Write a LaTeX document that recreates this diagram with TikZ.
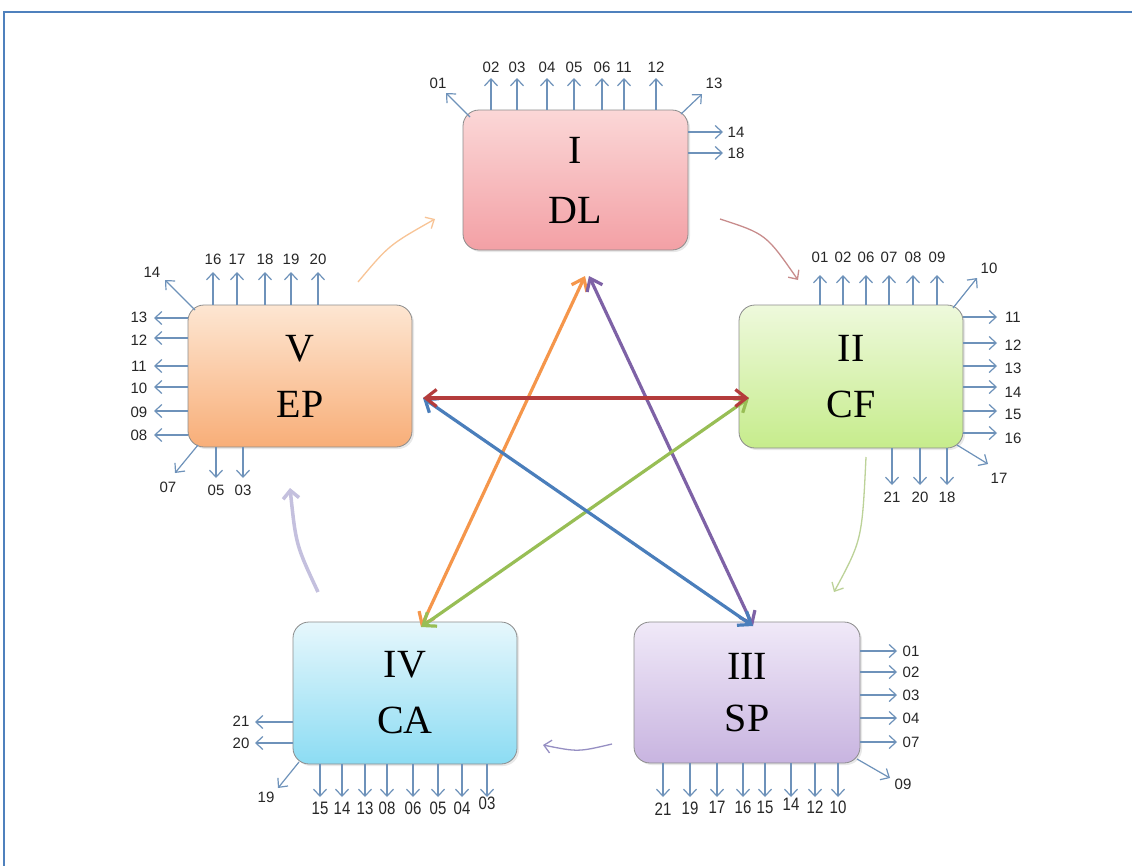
\documentclass[tikz,border=0pt]{standalone}
\usepackage{fontspec}
\setmainfont{Liberation Serif}
\newfontfamily\labfont{Liberation Sans}
\usetikzlibrary{arrows.meta,shadows}
\definecolor{framec}{RGB}{79,129,189}
\definecolor{boxgray}{RGB}{140,140,140}
\definecolor{sblue}{RGB}{110,146,186}
\definecolor{Itop}{RGB}{251,215,215}\definecolor{Ibot}{RGB}{243,160,165}
\definecolor{Vtop}{RGB}{253,230,210}\definecolor{Vbot}{RGB}{248,174,120}
\definecolor{IItop}{RGB}{238,249,220}\definecolor{IIbot}{RGB}{198,236,140}
\definecolor{IVtop}{RGB}{230,247,252}\definecolor{IVbot}{RGB}{140,220,243}
\definecolor{IIItop}{RGB}{240,233,248}\definecolor{IIIbot}{RGB}{200,180,224}
\definecolor{cred}{RGB}{180,60,60}
\definecolor{cblue}{RGB}{74,126,187}
\definecolor{corange}{RGB}{245,150,75}
\definecolor{cpurple}{RGB}{126,98,166}
\definecolor{cgreen}{RGB}{152,190,85}
\definecolor{cycO}{RGB}{248,196,150}
\definecolor{cycR}{RGB}{200,140,140}
\definecolor{cycG}{RGB}{188,210,152}
\definecolor{cycP}{RGB}{150,143,195}
\definecolor{cycL}{RGB}{196,192,222}
\begin{document}
\begin{tikzpicture}[x=1pt,y=-1pt,
  box/.style={draw=boxgray, line width=0.8pt, rounded corners=16pt, minimum width=224pt,
    minimum height=142pt, align=center, inner sep=0pt,
    font=\fontsize{40}{56}\selectfont,
    drop shadow={opacity=0.18, shadow xshift=2pt, shadow yshift=-2pt}},
  sa/.style={draw=sblue, line width=1.2pt, -{Straight Barb[length=7pt,width=13pt]}},
  lab/.style={font=\labfont\fontsize{15}{15}\selectfont, text=black!85, inner sep=0pt},
  blab/.style={font=\labfont\fontsize{15}{15}\selectfont, text=black!85, inner sep=0pt, yscale=1.2, transform shape},
  big/.style={line width=3.2pt, {Straight Barb[length=11pt,width=17pt]}-{Straight Barb[length=11pt,width=17pt]}},
  cyc/.style={line width=1.3pt, -{Straight Barb[length=7pt,width=13pt]}}
]
\useasboundingbox (0,0) rectangle (1132,865);
\fill[white] (0,0) rectangle (1132,865);
\draw[framec, line width=2.4pt] (4,866) -- (4,12) -- (1133,12);

% boxes
\node[box, top color=Itop, bottom color=Ibot, minimum width=225pt, minimum height=140pt,
  font=\fontsize{40}{60}\selectfont] (boxI) at (575.5,180) {I\\DL};
\node[box, top color=IItop, bottom color=IIbot, minimum height=143pt] (boxII) at (851,376.5) {II\\CF};
\node[box, top color=IIItop, bottom color=IIIbot, minimum width=226pt, minimum height=141pt,
  font=\fontsize{40}{52}\selectfont] (boxIII) at (747,692.5) {III\\SP};
\node[box, top color=IVtop, bottom color=IVbot] (boxIV) at (405,693) {IV\\CA};
\node[box, top color=Vtop, bottom color=Vbot] (boxV) at (300,376) {V\\EP};

% cycle arrows
\draw[cyc, cycO] (358,282) .. controls (389,245) .. (435,219);
\draw[cyc, cycR] (720,219) .. controls (766,234) .. (798,280);
\draw[cyc, cycG] (866,457) .. controls (862,540) .. (834,592);
\draw[cyc, cycP] (612,744) .. controls (578,752) .. (543,745);
\draw[cycL, line width=3.5pt, -{Straight Barb[length=8pt,width=16pt]}] (318,592) .. controls (296,545) .. (290,488);

% star arrows
\coordinate (tV) at (423,398);
\coordinate (tII) at (749,398);
\coordinate (tIa) at (585,276);
\coordinate (tIb) at (589,276);
\coordinate (tIII) at (753,626);
\coordinate (tIV) at (421,627);
\draw[big, corange] (tIa) -- (tIV);
\draw[big, cpurple] (tIb) -- (tIII);
\draw[big, cgreen] (tII) -- (tIV);
\draw[big, cblue] (tV) -- (tIII);
\draw[big, cred] (tV) -- (tII);

% ---- box I stubs
\foreach \x/\l in {491/02,517/03,547/04,574/05,602/06,624/11,656/12}{
  \draw[sa] (boxI.north -| \x,0) -- (\x,78);
  \node[lab] at (\x,67) {\l};}
\draw[sa] (470,117) -- (446,93); \node[lab] at (438,83) {01};
\draw[sa] (681,114) -- (702,94); \node[lab] at (714,83) {13};
\draw[sa] (boxI.east |- 0,132) -- (723,132); \node[lab] at (736,132) {14};
\draw[sa] (boxI.east |- 0,153) -- (723,153); \node[lab] at (736,153) {18};

% ---- box II stubs
\foreach \x/\l in {820/01,843/02,866/06,889/07,913/08,937/09}{
  \draw[sa] (boxII.north -| \x,0) -- (\x,275);
  \node[lab] at (\x,257) {\l};}
\draw[sa] (953,308) -- (977,278); \node[lab] at (989,268) {10};
\foreach \y/\ly/\l in {317/317/11,343/345/12,366/368/13,387/392/14,411/414/15,433/438/16}{
  \draw[sa] (boxII.east |- 0,\y) -- (997,\y);
  \node[lab] at (1013,\ly) {\l};}
\draw[sa] (957,445) -- (988,464); \node[lab] at (999,478) {17};
\foreach \x/\l in {892/21,920/20,947/18}{
  \draw[sa] (boxII.south -| \x,0) -- (\x,485);
  \node[lab] at (\x,497) {\l};}

% ---- box III stubs
\foreach \y/\l in {651/01,672/02,695/03,718/04,742/07}{
  \draw[sa] (boxIII.east |- 0,\y) -- (897,\y);
  \node[lab] at (911,\y) {\l};}
\draw[sa] (857,759) -- (890,778); \node[lab] at (903,784) {09};
\foreach \x/\ly/\l in {663/809/21,690/808/19,717/807/17,743/807/16,765/807/15,791/804/14,815/807/12,838/807/10}{
  \draw[sa] (boxIII.south -| \x,0) -- (\x,797);
  \node[blab] at (\x,\ly) {\l};}

% ---- box IV stubs
\draw[sa] (boxIV.west |- 0,722) -- (255,722); \node[lab] at (241,721) {21};
\draw[sa] (boxIV.west |- 0,743) -- (255,743); \node[lab] at (241,743) {20};
\draw[sa] (299,762) -- (278,788); \node[lab] at (266,797) {19};
\foreach \x/\ly/\l in {320/808/15,342/808/14,365/808/13,387/808/08,413/808/06,438/808/05,462/808/04,487/803/03}{
  \draw[sa] (boxIV.south -| \x,0) -- (\x,797);
  \node[blab] at (\x,\ly) {\l};}

% ---- box V stubs
\foreach \x/\l in {213/16,237/17,265/18,291/19,318/20}{
  \draw[sa] (boxV.north -| \x,0) -- (\x,272);
  \node[lab] at (\x,259) {\l};}
\draw[sa] (195,310) -- (165,280); \node[lab] at (152,272) {14};
\foreach \y/\ly/\l in {318/317/13,338/340/12,366/366/11,387/388/10,411/412/09,435/435/08}{
  \draw[sa] (boxV.west |- 0,\y) -- (154,\y);
  \node[lab] at (139,\ly) {\l};}
\draw[sa] (198,445) -- (175,473); \node[lab] at (168,487) {07};
\foreach \x/\l in {216/05,243/03}{
  \draw[sa] (boxV.south -| \x,0) -- (\x,478);
  \node[lab] at (\x,490) {\l};}
\end{tikzpicture}
\end{document}
